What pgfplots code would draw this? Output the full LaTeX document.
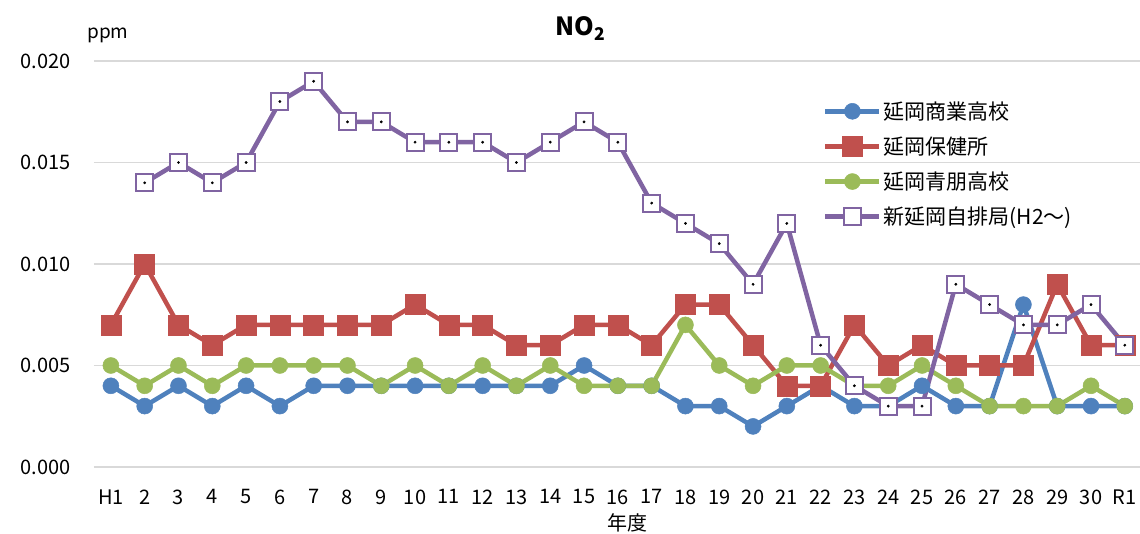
\documentclass[border=0pt]{standalone}
\usepackage{fontspec}
\setmainfont{Noto Sans CJK JP}
\usepackage{pgfplots}
\pgfplotsset{compat=1.18}
\definecolor{cblue}{HTML}{4F81BD}
\definecolor{cred}{HTML}{C0504D}
\definecolor{cgreen}{HTML}{9BBB59}
\definecolor{cpurple}{HTML}{8064A2}
\definecolor{gridgray}{HTML}{D9D9D9}

\begin{document}
\begin{tikzpicture}
\useasboundingbox (-94pt,-67pt) rectangle (1046pt,467pt);
\begin{axis}[
  at={(0pt,0pt)}, anchor=south west,
  scale only axis, width=1046pt, height=406pt,
  xmin=-0.5, xmax=30.45, ymin=0, ymax=0.02,
  clip=false,
  xtick={0,...,30},
  xticklabels={H1,2,3,4,5,6,7,8,9,10,11,12,13,14,15,16,17,18,19,20,21,22,23,24,25,26,27,28,29,30,R1},
  ytick={0,0.005,0.010,0.015,0.020},
  scaled y ticks=false,
  yticklabel style={/pgf/number format/fixed, /pgf/number format/fixed zerofill,
    /pgf/number format/precision=3, /pgf/number format/assume math mode=true, xshift=-20pt},
  xticklabel style={yshift=-19pt},
  ticklabel style={font=\fontsize{20}{20}\selectfont},
  ymajorgrids,
  grid style={draw=gridgray, line width=1.3pt},
  axis line style={draw=none},
  major tick length=0pt,
  legend style={at={(rel axis cs:0.694,0.91)}, anchor=north west, draw=none, fill=none,
    font=\fontsize{21}{21}\selectfont, row sep=12pt, cells={anchor=west}},
  legend cell align=left,
  legend image code/.code={\draw[mark repeat=2,mark phase=2] plot coordinates {(0cm,0cm)(0.95cm,0cm)(1.9cm,0cm)};},
]
\addplot[cblue, line width=4.5pt, mark=*, mark size=8pt, mark options={fill=cblue, draw=cblue, line width=0.5pt}] coordinates {
(0,0.004)(1,0.003)(2,0.004)(3,0.003)(4,0.004)(5,0.003)(6,0.004)(7,0.004)(8,0.004)(9,0.004)
(10,0.004)(11,0.004)(12,0.004)(13,0.004)(14,0.005)(15,0.004)(16,0.004)(17,0.003)(18,0.003)(19,0.002)
(20,0.003)(21,0.004)(22,0.003)(23,0.003)(24,0.004)(25,0.003)(26,0.003)(27,0.008)(28,0.003)(29,0.003)(30,0.003)};
\addlegendentry{延岡商業高校}
\addplot[cred, line width=4.5pt, mark=square*, mark size=10pt, mark options={fill=cred, draw=cred, line width=0.5pt}] coordinates {
(0,0.007)(1,0.010)(2,0.007)(3,0.006)(4,0.007)(5,0.007)(6,0.007)(7,0.007)(8,0.007)(9,0.008)
(10,0.007)(11,0.007)(12,0.006)(13,0.006)(14,0.007)(15,0.007)(16,0.006)(17,0.008)(18,0.008)(19,0.006)
(20,0.004)(21,0.004)(22,0.007)(23,0.005)(24,0.006)(25,0.005)(26,0.005)(27,0.005)(28,0.009)(29,0.006)(30,0.006)};
\addlegendentry{延岡保健所}
\addplot[cgreen, line width=4.5pt, mark=*, mark size=8pt, mark options={fill=cgreen, draw=cgreen, line width=0.5pt}] coordinates {
(0,0.005)(1,0.004)(2,0.005)(3,0.004)(4,0.005)(5,0.005)(6,0.005)(7,0.005)(8,0.004)(9,0.005)
(10,0.004)(11,0.005)(12,0.004)(13,0.005)(14,0.004)(15,0.004)(16,0.004)(17,0.007)(18,0.005)(19,0.004)
(20,0.005)(21,0.005)(22,0.004)(23,0.004)(24,0.005)(25,0.004)(26,0.003)(27,0.003)(28,0.003)(29,0.004)(30,0.003)};
\addlegendentry{延岡青朋高校}
\addplot[cpurple, line width=4.5pt, mark=square*, mark size=8.5pt, mark options={fill=white, draw=cpurple, line width=2pt}] coordinates {
(1,0.014)(2,0.015)(3,0.014)(4,0.015)(5,0.018)(6,0.019)(7,0.017)(8,0.017)(9,0.016)
(10,0.016)(11,0.016)(12,0.015)(13,0.016)(14,0.017)(15,0.016)(16,0.013)(17,0.012)(18,0.011)(19,0.009)
(20,0.012)(21,0.006)(22,0.004)(23,0.003)(24,0.003)(25,0.009)(26,0.008)(27,0.007)(28,0.007)(29,0.008)(30,0.006)};
\addlegendentry{新延岡自排局(H2～)}
\addplot[only marks, mark=*, mark size=1.2pt, black, forget plot] coordinates {
(1,0.014)(2,0.015)(3,0.014)(4,0.015)(5,0.018)(6,0.019)(7,0.017)(8,0.017)(9,0.016)
(10,0.016)(11,0.016)(12,0.015)(13,0.016)(14,0.017)(15,0.016)(16,0.013)(17,0.012)(18,0.011)(19,0.009)
(20,0.012)(21,0.006)(22,0.004)(23,0.003)(24,0.003)(25,0.009)(26,0.008)(27,0.007)(28,0.007)(29,0.008)(30,0.006)};
\node[font=\fontsize{20}{20}\selectfont] at (rel axis cs:0.51,0) [yshift=-56pt] {年度};
\node[font=\fontsize{19}{19}\selectfont] at (rel axis cs:0.0134,1.064) {ppm};
\node[font=\bfseries\fontsize{25}{25}\selectfont] at (rel axis cs:0.465,1.08) {NO$_{\mathbf{2}}$};
\end{axis}
\end{tikzpicture}
\end{document}
